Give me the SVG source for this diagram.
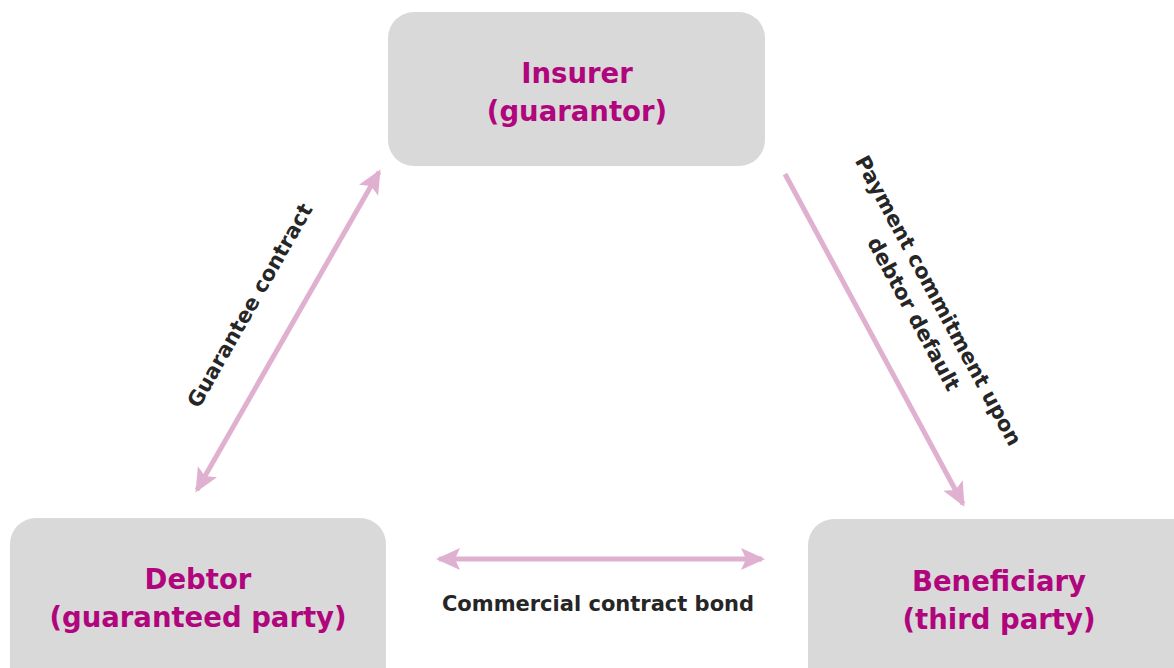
<svg xmlns="http://www.w3.org/2000/svg" width="1174" height="668" viewBox="0 0 1174 668">
  <style>
    .box { fill: #d9d9d9; }
    .title { font-family: "DejaVu Sans", "Liberation Sans", sans-serif; font-weight: bold; font-size: 27.5px; fill: #b0057c; text-anchor: middle; }
    .label { font-family: "DejaVu Sans", "Liberation Sans", sans-serif; font-weight: bold; font-size: 21px; fill: #262626; text-anchor: middle; }
    .link { stroke: #e0b0d0; stroke-width: 5; fill: none; }
  </style>
  <defs>
    <marker id="head" markerUnits="userSpaceOnUse" markerWidth="26" markerHeight="24" refX="21" refY="12" orient="auto-start-reverse">
      <path d="M0,1 L24,12 L0,23 L5,12 Z" fill="#e0b0d0"/>
    </marker>
  </defs>

  <g id="insurer">
    <rect class="box" x="388" y="12" width="377" height="154" rx="26"/>
    <text class="title" x="577" y="83">Insurer</text>
    <text class="title" x="577" y="121">(guarantor)</text>
  </g>

  <g id="debtor">
    <rect class="box" x="10" y="518" width="376" height="180" rx="26"/>
    <text class="title" x="198" y="589">Debtor</text>
    <text class="title" x="198" y="627">(guaranteed party)</text>
  </g>

  <g id="beneficiary">
    <rect class="box" x="808" y="519" width="400" height="180" rx="26"/>
    <text class="title" x="999" y="591">Beneficiary</text>
    <text class="title" x="999" y="629">(third party)</text>
  </g>

  <g id="connectors">
    <line class="link" x1="197" y1="490" x2="379" y2="172" marker-start="url(#head)" marker-end="url(#head)"/>
    <line class="link" x1="785" y1="174" x2="963" y2="504" marker-end="url(#head)"/>
    <line class="link" x1="439" y1="559" x2="762" y2="559" marker-start="url(#head)" marker-end="url(#head)"/>
    <text class="label" transform="translate(256,309) rotate(-60.3)">Guarantee contract</text>
    <g transform="translate(932,304) rotate(61.6)">
      <text class="label" x="0" y="0">Payment commitment upon</text>
      <text class="label" x="0" y="28">debtor default</text>
    </g>
    <text class="label" x="598" y="611">Commercial contract bond</text>
  </g>
</svg>
